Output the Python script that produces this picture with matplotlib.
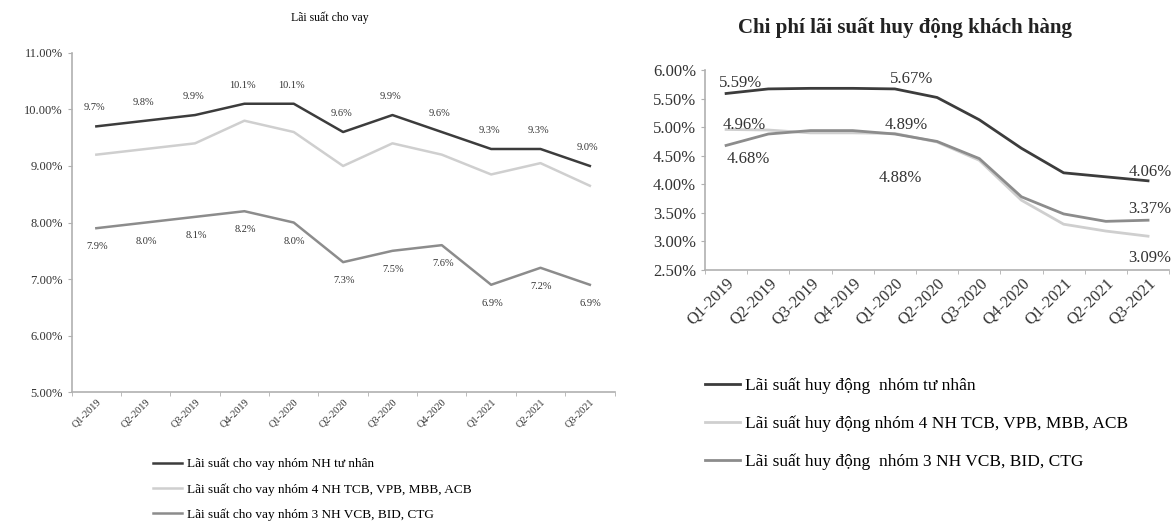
import matplotlib.pyplot as plt
from matplotlib.ticker import FuncFormatter, MultipleLocator

plt.rcParams['font.family'] = ['Liberation Serif', 'DejaVu Serif']

quarters = ['Q1-2019', 'Q2-2019', 'Q3-2019', 'Q4-2019', 'Q1-2020', 'Q2-2020',
            'Q3-2020', 'Q4-2020', 'Q1-2021', 'Q2-2021', 'Q3-2021']

# left chart: lending rates (%)
loan_private = [9.7, 9.8, 9.9, 10.1, 10.1, 9.6, 9.9, 9.6, 9.3, 9.3, 9.0]
loan_4banks = [9.2, 9.3, 9.4, 9.8, 9.6, 9.0, 9.4, 9.2, 8.85, 9.05, 8.65]
loan_3banks = [7.9, 8.0, 8.1, 8.2, 8.0, 7.3, 7.5, 7.6, 6.9, 7.2, 6.9]
loan_names = ['Lãi suất cho vay nhóm NH tư nhân',
              'Lãi suất cho vay nhóm 4 NH TCB, VPB, MBB, ACB',
              'Lãi suất cho vay nhóm 3 NH VCB, BID, CTG']

# right chart: deposit costs (%)
dep_private = [5.59, 5.67, 5.68, 5.68, 5.67, 5.52, 5.13, 4.63, 4.20, 4.13, 4.06]
dep_4banks = [4.96, 4.95, 4.90, 4.90, 4.89, 4.74, 4.42, 3.72, 3.30, 3.18, 3.09]
dep_3banks = [4.68, 4.88, 4.94, 4.94, 4.88, 4.75, 4.45, 3.78, 3.48, 3.35, 3.37]
dep_names = ['Lãi suất huy động  nhóm tư nhân',
             'Lãi suất huy động nhóm 4 NH TCB, VPB, MBB, ACB',
             'Lãi suất huy động  nhóm 3 NH VCB, BID, CTG']

c_dark = '#3c3c3c'
c_mid = '#8c8c8c'
c_light = '#cfcfcf'
axis_c = '#b0b0b0'


def style_axes(ax, fs_y, fs_x):
    for s in ['top', 'right']:
        ax.spines[s].set_visible(False)
    for s in ['left', 'bottom']:
        ax.spines[s].set_color(axis_c)
        ax.spines[s].set_linewidth(1.2)
    ax.tick_params(colors=axis_c, labelcolor='#333333', length=3)
    ax.tick_params(axis='y', labelsize=fs_y)
    ax.tick_params(axis='x', which='major', length=0, labelsize=fs_x)
    ax.tick_params(axis='x', which='minor', length=3, color=axis_c)


fig = plt.figure(figsize=(11.75, 5.23), dpi=100)
x = list(range(len(quarters)))

# ---------- left chart ----------
ax1 = fig.add_axes([0.061, 0.25, 0.462, 0.649])
ax1.plot(x, loan_private, color=c_dark, lw=1.8)
ax1.plot(x, loan_4banks, color=c_light, lw=1.8)
ax1.plot(x, loan_3banks, color=c_mid, lw=1.8)
for i, v in enumerate(loan_private):
    ax1.annotate(f'{v:.1f}%', (i, v), xytext=(-2, 14), textcoords='offset pixels',
                 ha='center', va='bottom', fontsize=7.5, color='#333333')
for i, v in enumerate(loan_3banks):
    ax1.annotate(f'{v:.1f}%', (i, v), xytext=(1, -14), textcoords='offset pixels',
                 ha='center', va='top', fontsize=7.5, color='#333333')
ax1.set_xlim(-0.5, len(quarters) - 0.5)
ax1.set_ylim(5, 11)
ax1.yaxis.set_major_locator(MultipleLocator(1))
ax1.yaxis.set_major_formatter(FuncFormatter(lambda v, p: f'{v:.2f}%'))
ax1.set_xticks(x)
ax1.set_xticklabels(quarters, rotation=45, ha='right', rotation_mode='anchor')
ax1.set_xticks([i - 0.5 for i in range(len(quarters) + 1)], minor=True)
style_axes(ax1, 9, 7.5)
fig.text(0.281, 0.967, 'Lãi suất cho vay', ha='center', va='center', fontsize=8.5)
leg1 = ax1.legend(loan_names, loc='upper left', bbox_to_anchor=(0.12, 0.147),
                  bbox_transform=fig.transFigure, frameon=False, fontsize=9.5,
                  handlelength=2.2, handletextpad=0.35, labelspacing=0.95)

# ---------- right chart ----------
ax2 = fig.add_axes([0.6, 0.484, 0.395, 0.382])
ax2.plot(x, dep_private, color=c_dark, lw=2)
ax2.plot(x, dep_4banks, color=c_light, lw=2)
ax2.plot(x, dep_3banks, color=c_mid, lw=2)
ax2.set_xlim(-0.5, len(quarters) - 0.5)
ax2.set_ylim(2.5, 6.0)
ax2.yaxis.set_major_locator(MultipleLocator(0.5))
ax2.yaxis.set_major_formatter(FuncFormatter(lambda v, p: f'{v:.2f}%'))
ax2.set_xticks(x)
ax2.set_xticklabels(quarters, rotation=45, ha='right', rotation_mode='anchor')
ax2.set_xticks([i - 0.5 for i in range(len(quarters) + 1)], minor=True)
style_axes(ax2, 12, 12)

last = len(quarters) - 1
label_spots = [
    (dep_private, 0, (14, 10)), (dep_private, 4, (17, 10)), (dep_private, last, (2, 9)),
    (dep_4banks, 0, (18, 4)), (dep_4banks, 4, (11, 8)), (dep_4banks, last, (2, -22)),
    (dep_3banks, 0, (22, -14)), (dep_3banks, 4, (5, -44)), (dep_3banks, last, (2, 11)),
]
for series, i, off in label_spots:
    ax2.annotate(f'{series[i]:.2f}%', (i, series[i]), xytext=off,
                 textcoords='offset pixels', ha='center', va='center',
                 fontsize=12, color='#333333')

fig.text(0.77, 0.946, 'Chi phí lãi suất huy động khách hàng', ha='center',
         va='center', fontsize=15, fontweight='bold', color='#222222')
leg2 = ax2.legend(dep_names, loc='upper left', bbox_to_anchor=(0.587, 0.308),
                  bbox_transform=fig.transFigure, frameon=False, fontsize=12.5,
                  handlelength=2.0, handletextpad=0.3, labelspacing=1.25)

fig.savefig('out.png', dpi=100, facecolor='white')
